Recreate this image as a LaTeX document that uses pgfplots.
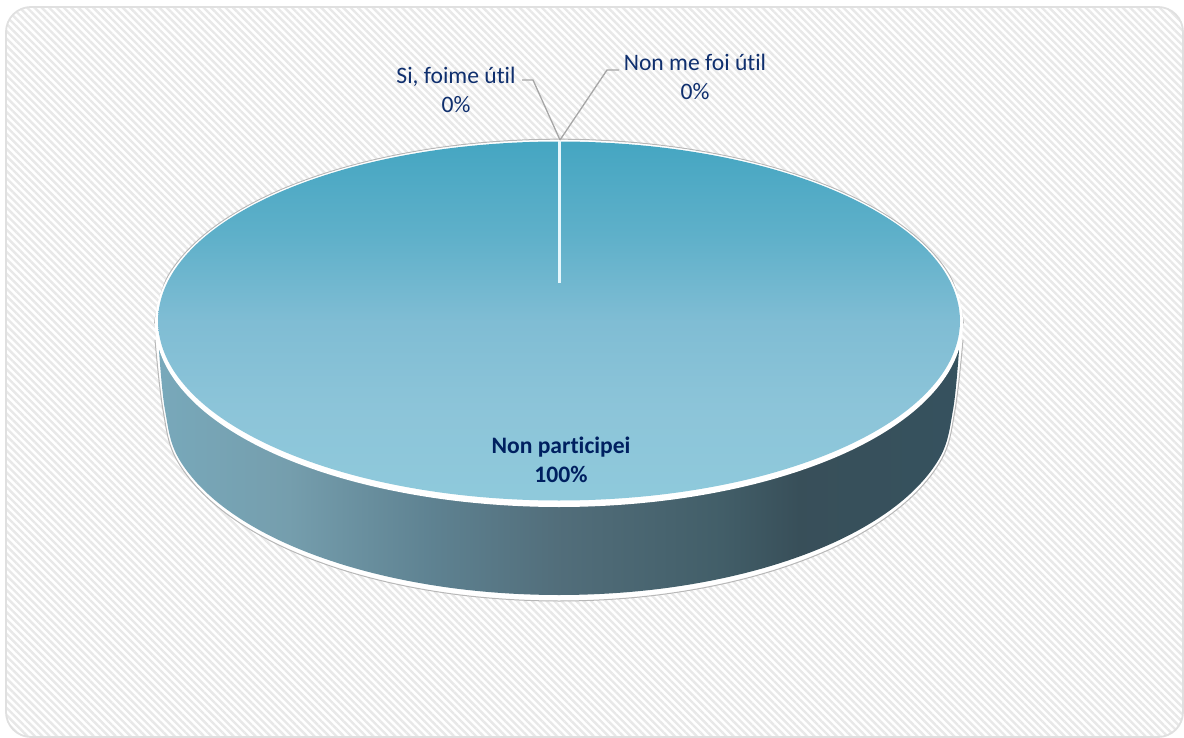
\documentclass[border=0pt]{standalone}
\usepackage{fontspec}
\setmainfont{Carlito}[Ligatures=NoCommon]
\usepackage{pgfplots}
\pgfplotsset{compat=1.18}
\usetikzlibrary{patterns.meta}
\definecolor{navy}{HTML}{0F2F6E}
\definecolor{navyb}{HTML}{002060}
\definecolor{leader}{HTML}{A6A6A6}
\pgfdeclareverticalshading{topgrad}{100bp}{rgb(0bp)=(.56,.79,.86);rgb(25bp)=(.56,.79,.86);rgb(38bp)=(.55,.77,.85);rgb(50bp)=(.50,.74,.83);rgb(62bp)=(.37,.69,.79);rgb(75bp)=(.27,.65,.76);rgb(100bp)=(.27,.65,.76)}
\pgfdeclarehorizontalshading{sidegrad}{100bp}{rgb(0bp)=(.47,.66,.73);rgb(25bp)=(.47,.66,.73);rgb(33bp)=(.46,.62,.68);rgb(42bp)=(.37,.51,.57);rgb(50bp)=(.32,.43,.48);rgb(60bp)=(.26,.37,.41);rgb(65bp)=(.22,.31,.35);rgb(75bp)=(.21,.32,.37);rgb(100bp)=(.21,.32,.37)}
\begin{document}
\begin{tikzpicture}
\begin{axis}[
  x=1pt,y=1pt,
  xmin=0,xmax=1184,ymin=0,ymax=738,
  y dir=reverse,
  axis lines=none,
  clip=false,
  scale only axis,
  every axis plot/.append style={smooth,tension=0.6,no markers},
]
% frame with hatch
\fill[white] (axis cs:0,0) rectangle (axis cs:1184,738);
\path[rounded corners=25pt,pattern={Lines[angle=-45,distance=5.2pt,line width=2.4pt]},pattern color=black!9]
  (axis cs:6,7) rectangle (axis cs:1183,737);
\draw[rounded corners=25pt,draw=black!12,line width=1.8pt]
  (axis cs:6,7) rectangle (axis cs:1183,737);
% side: grey and white silhouette
\addplot[draw=black!28,line width=1pt,fill=white] coordinates {
 (963,340)(955,410)(941.5,459.4)(901.9,505.5)(839,545.1)(757,575.4)(661.5,594.5)(559,601)(456.5,594.5)(361,575.4)(279,545.1)(216.1,505.5)(176.5,459.4)(163,410)(155,340)};
% side: shaded wall
\addplot[shade,shading=sidegrad,draw=none] coordinates {
 (959,350)(953,410)(939.6,457.9)(900.2,502.5)(837.6,540.8)(756,570.2)(661,588.7)(559,595)(457,588.7)(362,570.2)(280.4,540.8)(217.8,502.5)(178.4,457.9)(165,410)(159,350)};
% grey edge over the upper rim
\addplot[draw=black!28,line width=1pt] coordinates {
 (154.5,323.5)(168.3,275.5)(208.6,231.2)(272.8,193.2)(356.5,164.1)(454,145.6)(559,139.2)(664,145.6)(761.5,164.1)(845.2,193.2)(909.4,231.2)(949.7,275.5)(963.5,323.5)};
% white rim
\addplot[fill=white,draw=none] coordinates {
 (949.2,276)(963,323.5)(949.2,371)(908.9,415.3)(844.7,453.3)(761,482.4)(663.6,500.7)(559,507)(454.4,500.7)(357,482.4)(273.3,453.3)(209.1,415.3)(168.8,371)(155,323.5)(168.8,276)(209.1,231.7)(273.3,193.7)(357,164.6)(454.4,146.3)(559,140)(663.6,146.3)(761,164.6)(844.7,193.7)(908.9,231.7)(949.2,276)(963,323.5)(949.2,371)};
% top face: the slice "Non participei", 100%
\addplot[shade,shading=topgrad,draw=none] coordinates {
 (946.3,274.5)(960,321)(946.3,367.5)(906.3,410.8)(842.6,447.9)(759.5,476.5)(662.8,494.4)(559,500.5)(455.2,494.4)(358.5,476.5)(275.4,447.9)(211.7,410.8)(171.7,367.5)(158,321)(171.7,274.5)(211.7,231.2)(275.4,194.1)(358.5,165.5)(455.2,147.6)(559,141.5)(662.8,147.6)(759.5,165.5)(842.6,194.1)(906.3,231.2)(946.3,274.5)(960,321)(946.3,367.5)};
% the two empty slices: only their seam
\addplot[sharp plot,draw=white!90!cyan,line width=3.6pt] coordinates {(559.5,141)(559.5,283)};
% leader lines
\addplot[sharp plot,draw=leader,line width=1.3pt] coordinates {(522,80)(533,80)(560,140)};
\addplot[sharp plot,draw=leader,line width=1.3pt] coordinates {(619,70)(607,70)(560,140)};
% labels
\node[text=navy,font=\fontsize{23.6}{29}\selectfont,align=center,inner sep=0pt] at (axis cs:456,90) {Si, foime útil\\0\%};
\node[text=navy,font=\fontsize{23.6}{29}\selectfont,align=center,inner sep=0pt] at (axis cs:695,77) {Non me foi útil\\0\%};
\node[text=navyb,font=\fontsize{23.6}{29}\selectfont\bfseries,align=center,inner sep=0pt] at (axis cs:561,460) {Non participei\\100\%};
\end{axis}
\end{tikzpicture}
\end{document}
